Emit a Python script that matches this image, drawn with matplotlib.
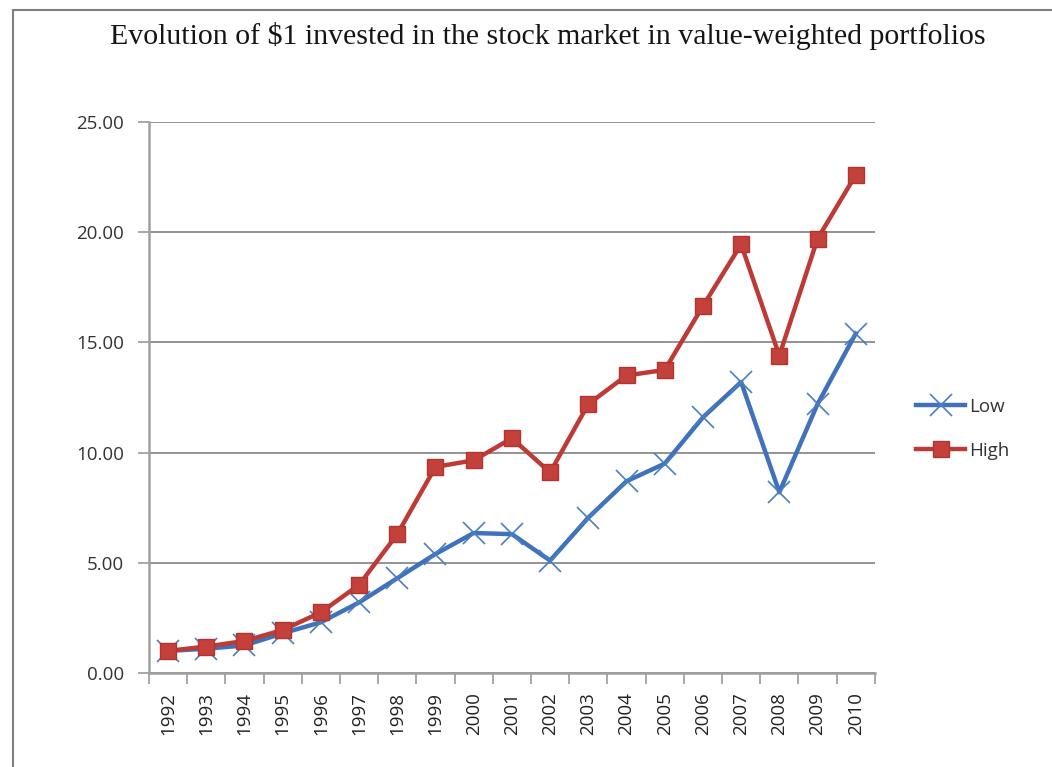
import matplotlib
matplotlib.use("Agg")
import matplotlib.pyplot as plt
from matplotlib.patches import Rectangle

years = [str(y) for y in range(1992, 2011)]
low = [1.0, 1.1, 1.25, 1.8, 2.3, 3.2, 4.3, 5.4, 6.35, 6.3, 5.1, 7.05, 8.7, 9.5, 11.6, 13.2, 8.2, 12.2, 15.4]
high = [1.0, 1.2, 1.45, 1.95, 2.75, 4.0, 6.3, 9.35, 9.65, 10.65, 9.1, 12.2, 13.5, 13.75, 16.65, 19.45, 14.4, 19.7, 22.6]
yticks = [0, 5, 10, 15, 20, 25]

fig = plt.figure(figsize=(10.52, 7.67), dpi=100)
fig.patches.append(Rectangle((0.0125, -0.01), 1.1, 0.997, transform=fig.transFigure,
                             fill=False, edgecolor="#7f7f7f", linewidth=1.5))
ax = fig.add_axes([0.1416, 0.1226, 0.69, 0.7183])

x = list(range(len(years)))
ax.plot(x, low, color="#3F72BA", linewidth=3.2, marker="x", markersize=16,
        markeredgewidth=1.2, markeredgecolor="#4A7EC0", label="Low", zorder=3)
ax.plot(x, high, color="#BE3A36", linewidth=3.2, marker="s", markersize=12,
        markeredgecolor="#B03430", markerfacecolor="#C4403B", label="High", zorder=4)

ax.set_xlim(-0.5, len(years) - 0.5)
ax.set_ylim(0, 25)
ax.set_yticks(yticks)
ax.set_yticklabels([f"{v:.2f}" for v in yticks], fontsize=13.5, family="Open Sans", color="#333333")
ax.set_xticks(x)
ax.set_xticklabels(years, rotation=90, fontsize=13.5, family="Open Sans", color="#222222")
ax.tick_params(axis="x", which="major", length=0, pad=14)
ax.set_xticks([i - 0.5 for i in range(len(years) + 1)], minor=True)
ax.tick_params(axis="x", which="minor", length=8, width=1.2, color="#999999", direction="out")
ax.tick_params(axis="y", length=8, width=1.2, color="#999999", direction="out", pad=10)

ax.grid(axis="y", color="#8a8a8a", linewidth=1.3)
ax.set_axisbelow(True)
for s in ["top", "right"]:
    ax.spines[s].set_visible(False)
ax.spines["left"].set_color("#a0a0a0")
ax.spines["left"].set_linewidth(1.8)
ax.spines["bottom"].set_color("#a0a0a0")
ax.spines["bottom"].set_linewidth(1.8)

fig.text(0.521, 0.953, "Evolution of $1 invested in the stock market in value-weighted portfolios",
         ha="center", va="center", fontsize=21.5, family="Liberation Serif", color="#151515")

leg = fig.legend(loc="center left", bbox_to_anchor=(0.855, 0.441), frameon=False,
                 prop={"family": "Open Sans", "size": 13.5}, handlelength=2.6,
                 labelspacing=1.4, handletextpad=0.2)
for t in leg.get_texts():
    t.set_color("#333333")

fig.savefig("out.png", dpi=100)
